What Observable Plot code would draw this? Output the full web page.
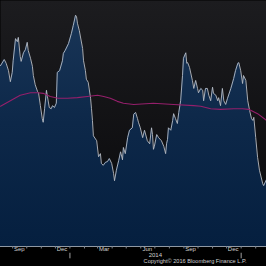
<!DOCTYPE html>
<html>
<head>
<meta charset="utf-8">
<script src="https://cdn.jsdelivr.net/npm/d3@7"></script>
<script src="https://cdn.jsdelivr.net/npm/@observablehq/plot@0.6"></script>
<style>
  html, body { margin: 0; padding: 0; background: #000; }
  #chart { width: 266px; height: 266px; overflow: hidden; }
</style>
</head>
<body>
<div id="chart"></div>
<script>
// Price series (dates, values)
const priceDates = [
  "2013-08-06","2013-08-14","2013-08-18","2013-08-23","2013-08-27","2013-08-31","2013-09-02","2013-09-07","2013-09-11","2013-09-13",
  "2013-09-17","2013-09-19","2013-09-24","2013-09-28","2013-10-02","2013-10-04","2013-10-09","2013-10-13","2013-10-15","2013-10-19",
  "2013-10-24","2013-10-26","2013-10-30","2013-11-03","2013-11-05","2013-11-08","2013-11-12","2013-11-14","2013-11-18","2013-11-22",
  "2013-11-25","2013-11-29","2013-12-03","2013-12-05","2013-12-10","2013-12-16","2013-12-18","2013-12-22","2013-12-29","2014-01-04",
  "2014-01-08","2014-01-13","2014-01-15","2014-01-17","2014-01-21","2014-01-28","2014-01-30","2014-02-03","2014-02-05","2014-02-09",
  "2014-02-14","2014-02-16","2014-02-18","2014-02-20","2014-02-27","2014-03-03","2014-03-07","2014-03-09","2014-03-13","2014-03-18",
  "2014-03-22","2014-03-26","2014-03-31","2014-04-04","2014-04-06","2014-04-10","2014-04-15","2014-04-19","2014-04-23","2014-04-25",
  "2014-04-29","2014-05-04","2014-05-08","2014-05-14","2014-05-17","2014-05-21","2014-05-25","2014-05-27","2014-05-31","2014-06-05",
  "2014-06-09","2014-06-15","2014-06-20","2014-06-24","2014-06-26","2014-06-28","2014-06-30","2014-07-05","2014-07-09","2014-07-15",
  "2014-07-20","2014-07-24","2014-07-26","2014-07-28","2014-07-30","2014-08-04","2014-08-08","2014-08-10","2014-08-14","2014-08-18",
  "2014-08-21","2014-08-25","2014-08-29","2014-08-31","2014-09-05","2014-09-07","2014-09-09","2014-09-13","2014-09-19","2014-09-22",
  "2014-09-26","2014-09-30","2014-10-02","2014-10-07","2014-10-11","2014-10-13","2014-10-17","2014-10-21","2014-10-24","2014-10-28",
  "2014-11-01","2014-11-03","2014-11-08","2014-11-12","2014-11-14","2014-11-18","2014-11-22","2014-11-25","2014-11-29","2014-12-03",
  "2014-12-10","2014-12-16","2014-12-20","2014-12-25","2014-12-27","2014-12-31","2015-01-04","2015-01-06","2015-01-11","2015-01-15",
  "2015-01-19","2015-01-23","2015-01-26","2015-01-28","2015-02-01","2015-02-05","2015-02-09","2015-02-16","2015-02-18","2015-02-24"
];
const priceValues = [
  29.4,30.4,29.8,28.6,26.8,28.3,30.2,33.8,33.3,34.0,
  30.9,30.1,31.5,32.0,33.2,31.9,30.6,29.3,27.8,26.3,
  25.2,25.0,22.9,20.8,20.2,22.4,25.4,24.4,22.6,22.4,
  22.9,22.6,23.3,28.3,28.6,30.2,31.4,31.9,33.0,34.6,
  35.9,37.6,37.4,36.3,35.1,32.2,30.2,28.6,27.2,26.7,
  24.1,22.4,20.5,18.0,17.2,14.6,15.1,13.5,13.2,13.7,
  13.8,14.3,13.5,11.9,10.7,12.4,14.0,15.4,14.1,16.1,
  15.1,17.7,18.9,19.3,21.5,21.8,20.8,20.2,19.3,17.7,
  18.9,17.2,16.7,19.3,18.2,15.8,16.3,18.2,17.7,17.2,
  16.3,15.1,16.7,17.4,19.3,18.9,20.5,21.6,20.8,20.0,
  21.8,23.7,27.8,30.6,31.5,29.8,29.9,29.1,27.0,25.7,
  27.0,25.7,25.0,25.7,25.4,23.7,25.7,25.7,24.6,23.7,
  25.9,24.9,24.6,23.7,24.2,22.9,25.7,23.7,23.1,24.1,
  25.7,27.3,28.6,29.8,29.9,28.6,26.5,27.8,27.0,23.7,
  22.1,20.8,20.5,21.0,17.7,14.5,12.4,10.2,9.9,10.9
];
// Moving average (magenta)
const maDates = [
  "2013-08-06","2013-08-27","2013-09-17","2013-10-09","2013-10-24","2013-11-05","2013-11-20","2013-12-07","2013-12-27","2014-01-17",
  "2014-02-07","2014-03-01","2014-03-14","2014-03-28","2014-04-12","2014-04-25","2014-05-17","2014-06-28","2014-08-10","2014-09-22",
  "2014-10-07","2014-10-28","2014-11-18","2014-12-16","2015-01-04","2015-01-17","2015-02-05","2015-02-24"
];
const maValues = [
  22.8,23.7,24.6,25.0,25.0,24.9,24.4,24.1,24.1,24.2,
  24.4,24.6,24.4,24.1,23.6,23.3,23.1,23.3,23.1,22.9,
  22.8,22.4,22.3,22.4,22.4,22.3,21.6,20.5
];
// Axis labels
const labelDates = ["2013-09-15","2013-12-15","2014-03-15","2014-06-15","2014-09-15","2014-12-15"];
const labelTexts = ["Sep","Dec","Mar","Jun","Sep","Dec"];
const yearDates = ["2014-07-02"];
const yearTexts = ["2014"];
const yearBreaks = ["2014-01-01","2015-01-01"];
const copyright = "Copyright\u00A9 2016 Bloomberg Finance L.P.";

const price = priceDates.map((d, i) => ({date: new Date(d), value: priceValues[i]}));
const ma = maDates.map((d, i) => ({date: new Date(d), value: maValues[i]}));
const labels = labelDates.map((d, i) => ({date: new Date(d), text: labelTexts[i]}));
const years = yearDates.map((d, i) => ({date: new Date(d), text: yearTexts[i]}));
const breaks = yearBreaks.map(d => new Date(d));
const months = d3.utcMonth.range(new Date("2013-08-06"), new Date("2015-02-25"));

const font = "'Liberation Sans', Arial, sans-serif";

const chart = Plot.plot({
  width: 266,
  height: 266,
  marginLeft: 0,
  marginRight: 0,
  marginTop: 0,
  marginBottom: 20,
  style: {background: "#000", fontFamily: font, color: "#d0d0d0"},
  x: {type: "utc", domain: [new Date("2013-08-06"), new Date("2015-02-24")], axis: null},
  y: {domain: [0, 40], axis: null},
  marks: [
    Plot.frame({fill: "url(#bgGrad)", stroke: "none"}),
    Plot.areaY(price, {x: "date", y: "value", fill: "url(#areaGrad)"}),
    Plot.lineY(price, {x: "date", y: "value", stroke: "#b7bcc5", strokeWidth: 0.9}),
    Plot.lineY(ma, {x: "date", y: "value", stroke: "#951f6b", strokeWidth: 1.1}),
    Plot.ruleY([0], {stroke: "#8f98a3", strokeWidth: 1}),
    Plot.ruleX(months, {y1: 0, y2: -0.4, stroke: "#7f868f", strokeWidth: 1}),
    Plot.ruleX(breaks, {y1: -1.1, y2: -2.0, stroke: "#a0a0a0", strokeWidth: 1}),
    Plot.text(labels, {x: "date", text: "text", frameAnchor: "bottom", dy: 4.2, fill: "#d0d0d0", fontSize: 6}),
    Plot.text(years, {x: "date", text: "text", frameAnchor: "bottom", dy: 10, fill: "#d0d0d0", fontSize: 6}),
    Plot.text([copyright], {text: d => d, frameAnchor: "bottom-right", textAnchor: "end", dx: -20, dy: 16.5, fill: "#d0d0d0", fontSize: 5.6})
  ]
});

// gradients
const ns = "http://www.w3.org/2000/svg";
const defs = document.createElementNS(ns, "defs");
function grad(id, stops) {
  const g = document.createElementNS(ns, "linearGradient");
  g.setAttribute("id", id);
  g.setAttribute("gradientUnits", "userSpaceOnUse");
  g.setAttribute("x1", 0); g.setAttribute("y1", 0);
  g.setAttribute("x2", 0); g.setAttribute("y2", 246);
  stops.forEach(([o, c]) => {
    const s = document.createElementNS(ns, "stop");
    s.setAttribute("offset", o);
    s.setAttribute("stop-color", c);
    g.appendChild(s);
  });
  defs.appendChild(g);
}
grad("bgGrad", [[0, "#1c1c1f"], [1, "#08080a"]]);
grad("areaGrad", [[0, "#1b3759"], [0.5, "#0d2849"], [1, "#051f3f"]]);
chart.insertBefore(defs, chart.firstChild);

document.getElementById("chart").appendChild(chart);
</script>
</body>
</html>
